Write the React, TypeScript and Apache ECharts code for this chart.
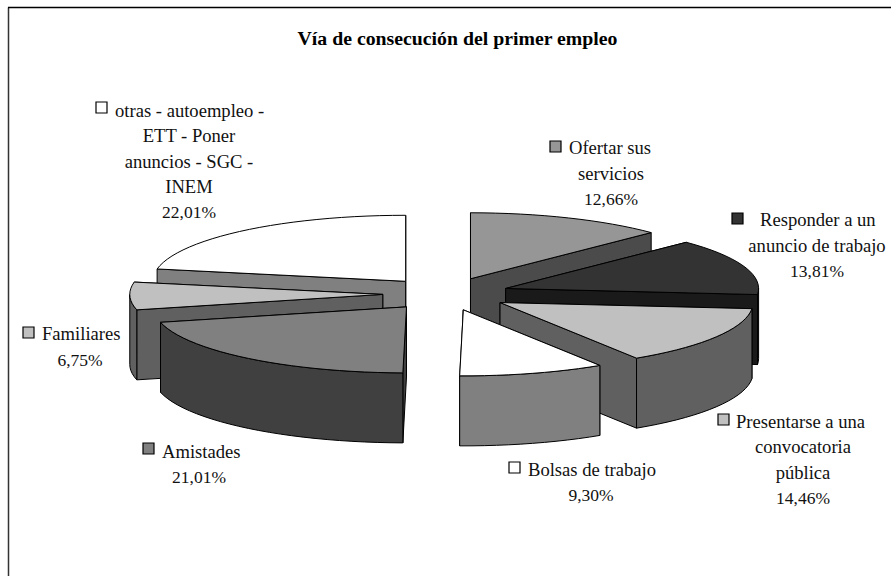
import React, { useEffect, useRef } from "react";
import * as echarts from "echarts";

// ---- data (clockwise from 12 o'clock) ----
const categories = [
  "Ofertar sus servicios",
  "Responder a un anuncio de trabajo",
  "Presentarse a una convocatoria pública",
  "Bolsas de trabajo",
  "Amistades",
  "Familiares",
  "otras - autoempleo - ETT - Poner anuncios - SGC - INEM",
];
const values = [12.66, 13.81, 14.46, 9.3, 21.01, 6.75, 22.01];
const percentLabels = ["12,66%", "13,81%", "14,46%", "9,30%", "21,01%", "6,75%", "22,01%"];
const nameLines = [
  ["Ofertar sus", "servicios"],
  ["Responder a un", "anuncio de trabajo"],
  ["Presentarse a una", "convocatoria", "pública"],
  ["Bolsas de trabajo"],
  ["Amistades"],
  ["Familiares"],
  ["otras - autoempleo -", "ETT - Poner", "anuncios - SGC -", "INEM"],
];
const title = "Vía de consecución del primer empleo";

// ---- styles and layout ----
const topColors = ["#969696", "#333333", "#c0c0c0", "#ffffff", "#808080", "#c0c0c0", "#ffffff"];
const wallColors = ["#4b4b4b", "#1a1a1a", "#606060", "#808080", "#404040", "#606060", "#808080"];
const drawOrder = [6, 5, 4, 0, 1, 2, 3];
const CX = 446;
const CY = 294;
const RX = 253;
const RY = 66;
const DEPTH = 70;
const EXPLODE = 0.25;
const NAME_FONT = '18.6px "Liberation Serif", serif';
const PCT_FONT = '17.5px "Liberation Serif", serif';
// key x, key y (top), first text line x (left), centre x of other lines, first line centre y, line step
const labelLayout = [
  { kx: 550, ky: 141, tx: 569, cx: 611, y: 147, step: 26 },
  { kx: 732, ky: 213, tx: 760, cx: 817, y: 219, step: 26 },
  { kx: 718, ky: 414, tx: 736, cx: 803, y: 421, step: 25.7 },
  { kx: 509, ky: 462, tx: 528, cx: 591, y: 469, step: 26 },
  { kx: 143, ky: 443, tx: 162, cx: 199, y: 451, step: 25.5 },
  { kx: 23, ky: 327, tx: 42, cx: 80, y: 333, step: 27 },
  { kx: 96, ky: 102, tx: 115, cx: 189, y: 110, step: 25.5 },
];

function buildLabels() {
  const out: any[] = [];
  nameLines.forEach((lines, i) => {
    const l = labelLayout[i];
    out.push({
      type: "rect",
      shape: { x: l.kx, y: l.ky, width: 11, height: 11 },
      style: { fill: topColors[i], stroke: "#000", lineWidth: 1.2 },
    });
    [...lines, percentLabels[i]].forEach((t, j) => {
      out.push({
        type: "text",
        x: j === 0 ? l.tx : l.cx,
        y: l.y + j * l.step,
        style: {
          text: t,
          font: j === lines.length ? PCT_FONT : NAME_FONT,
          fill: "#111",
          align: j === 0 ? "left" : "center",
          verticalAlign: "middle",
        },
      });
    });
  });
  return out;
}

function renderSlice(params: any, api: any) {
  const idx = api.value(1);
  const total = values.reduce((a, b) => a + b, 0);
  let before = 0;
  for (let i = 0; i < idx; i++) before += values[i];
  const v = api.value(0);
  const a0 = (before / total) * 2 * Math.PI;
  const a1 = ((before + v) / total) * 2 * Math.PI;
  const mid = (a0 + a1) / 2;
  const ox = CX + EXPLODE * RX * Math.sin(mid);
  const oy = CY - EXPLODE * RY * Math.cos(mid);
  const pt = (a: number, d = 0) => [ox + RX * Math.sin(a), oy - RY * Math.cos(a) + d];
  const arc = (s: number, e: number, d = 0) => {
    const n = Math.max(2, Math.ceil(((e - s) / Math.PI) * 60));
    const r: number[][] = [];
    for (let k = 0; k <= n; k++) r.push(pt(s + ((e - s) * k) / n, d));
    return r;
  };
  const wallStyle = { fill: wallColors[idx], stroke: "#000", lineWidth: 1 };
  const face = (a: number) => ({
    type: "polygon",
    shape: { points: [[ox, oy], pt(a), pt(a, DEPTH), [ox, oy + DEPTH]] },
    style: wallStyle,
  });
  // back radial face first, so the nearer one covers it
  const faces = [a0, a1].sort((p, q) => Math.cos(q) - Math.cos(p));
  const children: any[] = faces.map(face);
  const ws = Math.max(a0, Math.PI / 2);
  const we = Math.min(a1, (3 * Math.PI) / 2);
  if (we > ws) {
    children.push({
      type: "polygon",
      shape: { points: [...arc(ws, we), ...arc(ws, we, DEPTH).reverse()] },
      style: wallStyle,
    });
  }
  children.push({
    type: "polygon",
    shape: { points: [[ox, oy], ...arc(a0, a1)] },
    style: { fill: topColors[idx], stroke: "#000", lineWidth: 1 },
  });
  return { type: "group", children };
}

export default function App() {
  const ref = useRef<HTMLDivElement>(null);
  useEffect(() => {
    const chart = echarts.init(ref.current!, undefined, { renderer: "svg" });
    chart.setOption({
      animation: false,
      backgroundColor: "#fff",
      series: [
        {
          type: "custom",
          coordinateSystem: "none",
          renderItem: renderSlice,
          data: drawOrder.map((i) => ({ name: categories[i], value: [values[i], i] })),
          silent: true,
        },
      ],
      graphic: [
        { type: "line", shape: { x1: 8.5, y1: 7.5, x2: 8.5, y2: 576 }, style: { stroke: "#333", lineWidth: 1.5 } },
        { type: "line", shape: { x1: 8, y1: 7.5, x2: 891, y2: 7.5 }, style: { stroke: "#000", lineWidth: 1.5 } },
        {
          type: "text",
          x: 457.5,
          y: 38,
          style: {
            text: title,
            font: 'bold 19.8px "Liberation Serif", serif',
            fill: "#000",
            align: "center",
            verticalAlign: "middle",
          },
        },
        ...buildLabels(),
      ],
    });
    return () => chart.dispose();
  }, []);
  return (
    <div
      ref={ref}
      style={{ position: "fixed", left: 0, top: 0, width: 891, height: 576, background: "#fff" }}
    />
  );
}
